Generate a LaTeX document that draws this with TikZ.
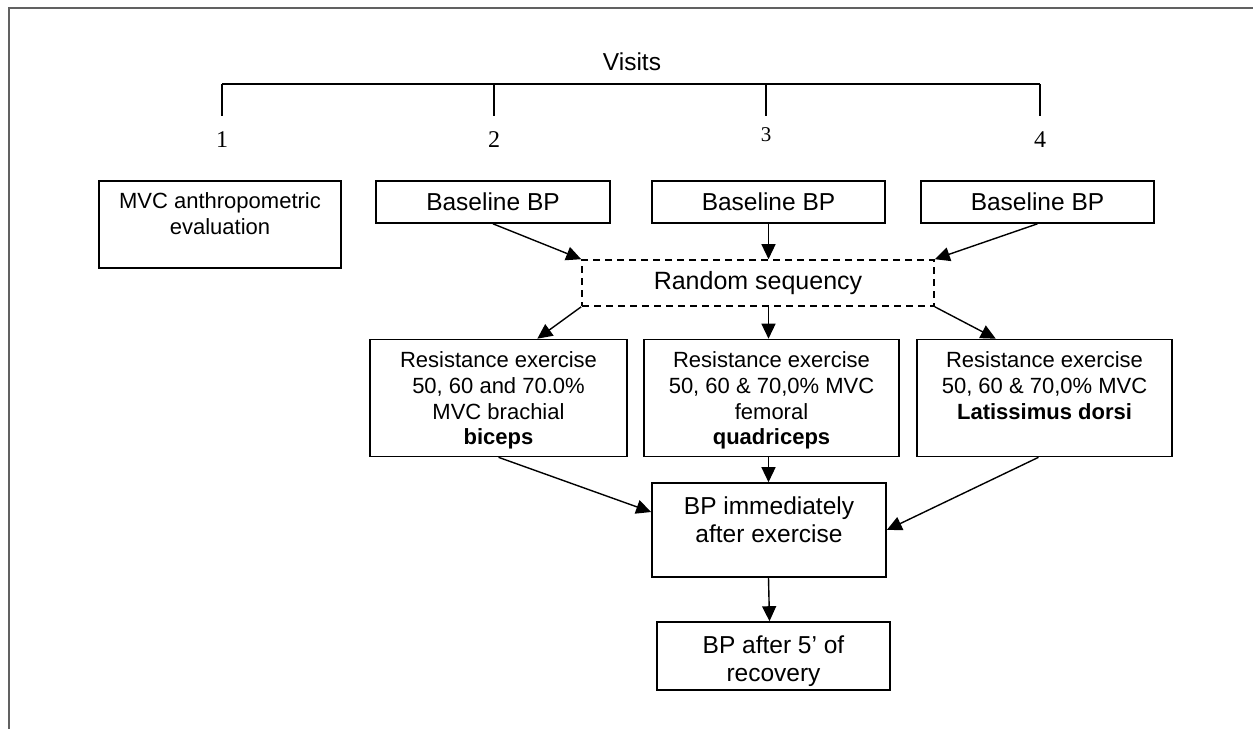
\documentclass[tikz,border=0pt]{standalone}
\usepackage{fontspec}
\setmainfont{Liberation Sans}
\newfontfamily\serifnum{Liberation Serif}
\usetikzlibrary{arrows.meta,calc}
\begin{document}
\begin{tikzpicture}[x=1pt,y=-1pt,
  box/.style={draw=black, line width=1.6pt, rectangle, inner sep=0pt, align=center},
  dbox/.style={box, dash pattern=on 7pt off 5pt},
  txt/.style={inner sep=0pt, align=center, anchor=north},
  arr/.style={-{Triangle[length=15pt,width=14pt]}, line width=1.4pt},
  tickline/.style={line width=1.5pt},
  big/.style={font=\fontsize{24.5}{28}\selectfont},
  small/.style={font=\fontsize{22}{25.8}\selectfont},
  num/.style={font=\serifnum\fontsize{24}{26}\selectfont, inner sep=0pt}]
\useasboundingbox (0,0) rectangle (1253,729);
\fill[white] (0,0) rectangle (1253,729);
\draw[black!62, line width=2pt] (1253,8) -- (9,8) -- (9,729);

% visits bracket
\node[big, inner sep=0pt] (visits) at (632,62) {Visits};
\coordinate (t1) at (222,84);
\coordinate (t2) at (494,84);
\coordinate (t3) at (766,84);
\coordinate (t4) at (1040,84);
\coordinate (e1) at (222,116);
\coordinate (e2) at (494,116);
\coordinate (e3) at (766,116);
\coordinate (e4) at (1040,116);
\draw[tickline] (t1) -- (t4);
\draw[tickline] (t1) -- (e1);
\draw[tickline] (t2) -- (e2);
\draw[tickline] (t3) -- (e3);
\draw[tickline] (t4) -- (e4);
\node[num] (n1) at (222,140) {1};
\node[num] (n2) at (494,140) {2};
\node[num, font=\serifnum\fontsize{21}{23}\selectfont] (n3) at (766,135) {3};
\node[num] (n4) at (1040,140) {4};

% first row
\node[box, minimum width=242pt, minimum height=87pt] (mvc) at (220,224.5) {};
\node[txt, small] (mvct) at ([yshift=-12.1pt]mvc.north) {MVC anthropometric\\evaluation};
\node[box, big, minimum width=234pt, minimum height=42pt] (base1) at (493,202) {Baseline BP};
\node[box, big, minimum width=233pt, minimum height=42pt] (base2) at (768.5,202) {Baseline BP};
\node[box, big, minimum width=233pt, minimum height=42pt] (base3) at (1037.5,202) {Baseline BP};

% random
\node[dbox, font=\fontsize{25}{28}\selectfont, minimum width=352pt, minimum height=46pt] (rand) at (758,283) {Random sequency};

% resistance
\node[box, minimum width=257pt, minimum height=117pt] (r1) at (498.5,398) {};
\node[box, minimum width=255pt, minimum height=117pt] (r2) at (771.5,398) {};
\node[box, minimum width=255pt, minimum height=117pt] (r3) at (1044.5,398) {};
\node[txt, small] (r1t) at ([yshift=-12.6pt]r1.north) {Resistance exercise\\50, 60 and 70.0\%\\MVC brachial\\\textbf{biceps}};
\node[txt, small] (r2t) at ([yshift=-12.6pt]r2.north) {Resistance exercise\\50, 60 \& 70,0\% MVC\\femoral\\\textbf{quadriceps}};
\node[txt, small] (r3t) at ([yshift=-12.6pt]r3.north) {Resistance exercise\\50, 60 \& 70,0\% MVC\\\textbf{Latissimus dorsi}};

% BP boxes
\node[box, minimum width=234pt, minimum height=94pt] (bpimm) at (769,530) {};
\node[txt, big] (bpimmt) at ([yshift=-14pt]bpimm.north) {BP immediately\\after exercise};
\node[box, minimum width=233pt, minimum height=68pt] (bpafter) at (773.5,656) {};
\node[txt, font=\fontsize{24.5}{28.5}\selectfont] (bpaftert) at ([yshift=-14pt]bpafter.north) {BP after 5’ of\\recovery};

% arrows
\draw[arr] (base1.south) -- (rand.north west);
\draw[arr] (base2.south) -- (base2.south |- rand.north);
\draw[arr] (base3.south) -- (rand.north east);
\draw[arr] (rand.south west) -- ($(r1.north west)!0.65!(r1.north east)$);
\draw[arr] (base2.south |- rand.south) -- (base2.south |- r2.north);
\draw[arr] (rand.south east) -- ($(r3.north west)!0.31!(r3.north east)$);
\draw[arr] (r1.south) -- ([yshift=18pt]bpimm.west);
\draw[arr] (base2.south |- r2.south) -- (base2.south |- bpimm.north);
\draw[arr] ([xshift=-6pt]r3.south) -- (bpimm.east);
\draw[arr] (base2.south |- bpimm.south) -- ([xshift=-4pt]bpafter.north);
\end{tikzpicture}
\end{document}
